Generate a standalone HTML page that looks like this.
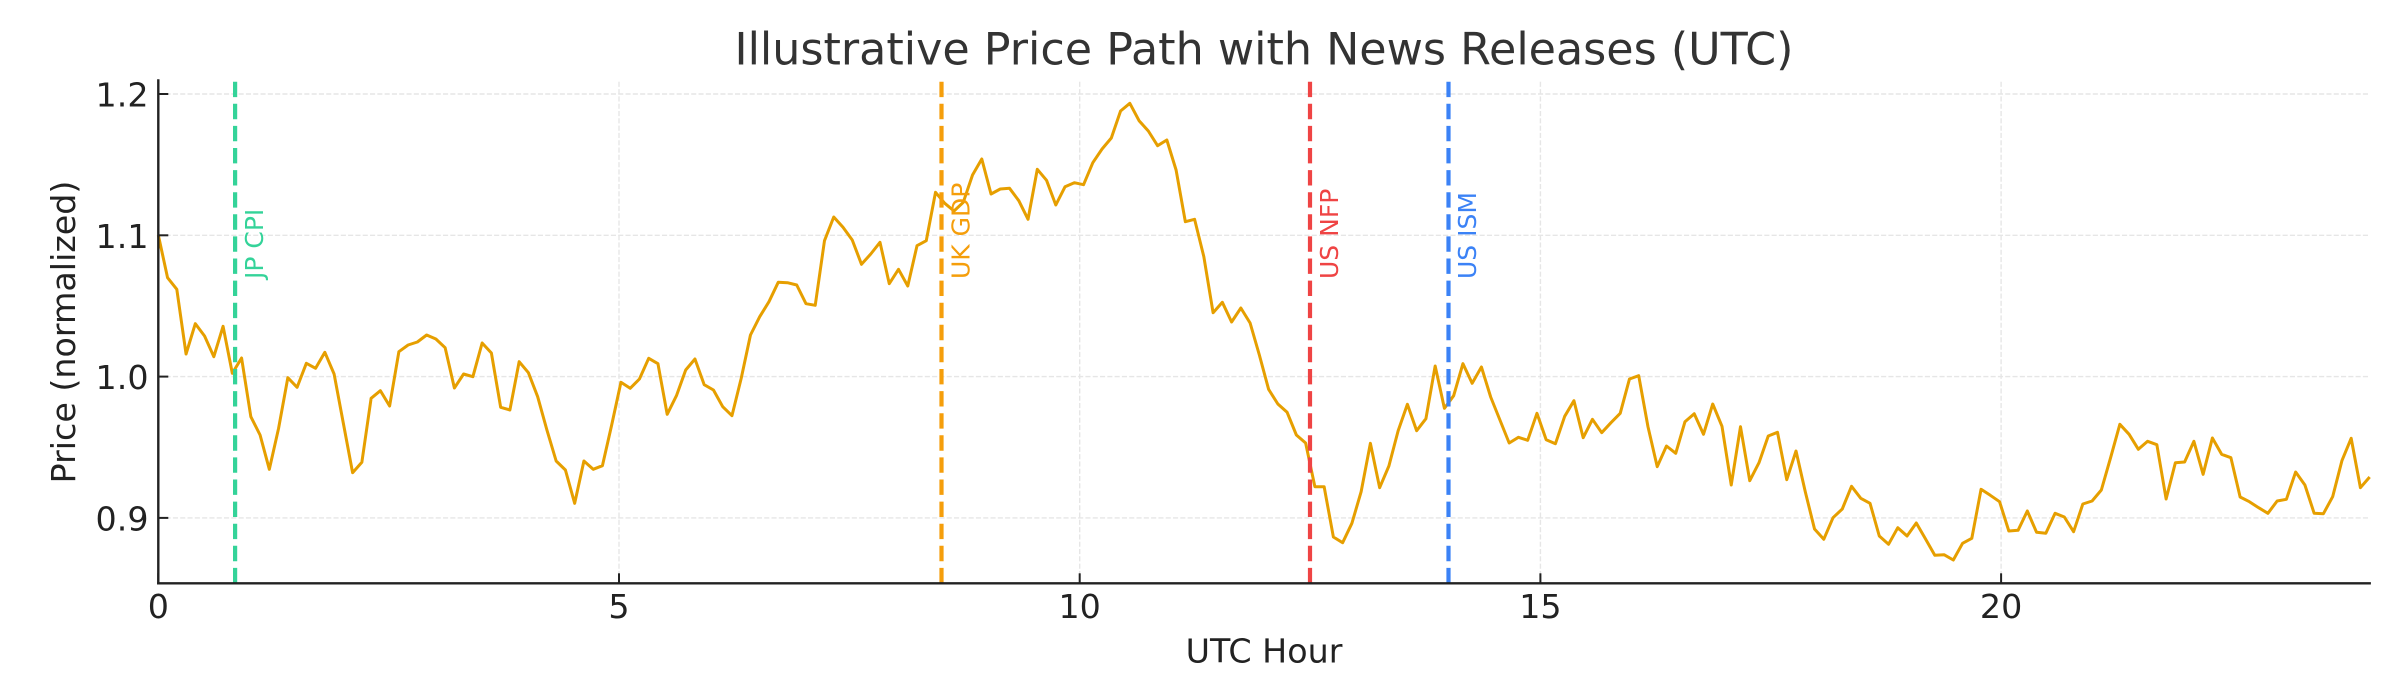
<!DOCTYPE html>
<html>
<head>
<meta charset="utf-8">
<style>
  html, body { margin: 0; padding: 0; background: #ffffff; }
  svg { display: block; }
</style>
</head>
<body>
<svg xmlns="http://www.w3.org/2000/svg" width="2400" height="700" viewBox="0 0 2400 700" font-family="'DejaVu Sans', 'Liberation Sans', sans-serif">
  <rect x="0" y="0" width="2400" height="700" fill="#ffffff"/>

  <!-- grid: horizontal -->
  <g stroke="#e6e6e6" stroke-width="1.4" stroke-dasharray="5.1 2.2" fill="none">
    <line x1="158.3" y1="94" x2="2369.7" y2="94"/>
    <line x1="158.3" y1="235.3" x2="2369.7" y2="235.3"/>
    <line x1="158.3" y1="376.6" x2="2369.7" y2="376.6"/>
    <line x1="158.3" y1="517.9" x2="2369.7" y2="517.9"/>
  </g>
  <!-- grid: vertical -->
  <g stroke="#e6e6e6" stroke-width="1.4" stroke-dasharray="5.1 2.2" fill="none">
    <line x1="158.3" y1="583.3" x2="158.3" y2="80.5"/>
    <line x1="619" y1="583.3" x2="619" y2="80.5"/>
    <line x1="1079.7" y1="583.3" x2="1079.7" y2="80.5"/>
    <line x1="1540.4" y1="583.3" x2="1540.4" y2="80.5"/>
    <line x1="2001.1" y1="583.3" x2="2001.1" y2="80.5"/>
  </g>

  <!-- price path -->
  <polyline fill="none" stroke="#E69F00" stroke-width="3" stroke-linejoin="round" stroke-linecap="butt" vector-effect="non-scaling-stroke"
    transform="translate(158.3,0) scale(9.2526,1)"
    points="0,235 1,277.7 2,289.3 3,354 4,323.7 5,336 6,356.7 7,326.3 8,373.3 9,358 10,416.7 11,435 12,469.3 13,428.3 14,377.7 15,387.3 16,363.3 17,368.3 18,352.3 19,374 20,423.3 21,472.7 22,462.3 23,398.3 24,390.7 25,406 26,351.7 27,345 28,342 29,335 30,339 31,347.7 32,388 33,374 34,376.7 35,343 36,353 37,407.3 38,410 39,361.7 40,372.7 41,396.7 42,430 43,461 44,470 45,503.3 46,461 47,469.3 48,465.7 49,425 50,382.3 51,388.3 52,379 53,358.3 54,363.7 55,414.3 56,395.7 57,370 58,359 59,384.7 60,390 61,406.7 62,415.7 63,378.3 64,335 65,316.7 66,301.7 67,282.3 68,282.7 69,285 70,303.7 71,305.3 72,240.7 73,217 74,227.3 75,240 76,264.3 77,254 78,242.3 79,283.7 80,269.3 81,286 82,245.7 83,240.7 84,192.3 85,203.3 86,211 87,202.3 88,175 89,159 90,194 91,189 92,188.3 93,200.7 94,219.3 95,169.3 96,180.3 97,205 98,186.7 99,182.7 100,184.7 101,162.7 102,149 103,138 104,111 105,103.3 106,120.7 107,131 108,145.7 109,140 110,170 111,221.7 112,219.3 113,256.7 114,312.7 115,302.3 116,322 117,308 118,323 119,355 120,389.3 121,404 122,412.3 123,435 124,443 125,486.7 126,486.7 127,537 128,542.7 129,523.3 130,491.7 131,443.3 132,487.7 133,466 134,430.7 135,404.3 136,430.7 137,418.7 138,366 139,408.3 140,395.7 141,363.7 142,383.3 143,367 144,397 145,420 146,443 147,437.3 148,440.3 149,413.3 150,439.7 151,443.7 152,416.3 153,400.7 154,437.7 155,419.3 156,432.7 157,422.7 158,413.3 159,379 160,375.7 161,426.7 162,466.7 163,446 164,453.3 165,421.7 166,413.7 167,434.3 168,404 169,426.3 170,485 171,426.7 172,480.7 173,462.7 174,436 175,432.3 176,479.7 177,451 178,491.7 179,529 180,539.3 181,517.7 182,509 183,486.3 184,498.3 185,503.3 186,536 187,544.3 188,527.7 189,536 190,523 191,539 192,555.3 193,554.7 194,560 195,543.3 196,538.3 197,489.3 198,495.3 199,501.7 200,531 201,530.3 202,511 203,532.3 204,533.3 205,513.3 206,517 207,531.7 208,504 209,501 210,490 211,457.7 212,424.3 213,434.3 214,449.3 215,441.3 216,444.7 217,499 218,462.7 219,462 220,441.3 221,474.3 222,438 223,454.3 224,457.7 225,497 226,501.7 227,507.7 228,513.3 229,501 230,499.3 231,472 232,485 233,513.3 234,513.7 235,496.7 236,460.7 237,438.3 238,487.7 239,477"/>

  <!-- news release lines -->
  <g stroke-width="4.2" stroke-dasharray="15.4 6.7" fill="none">
    <line x1="235.1" y1="583.3" x2="235.1" y2="80.5" stroke="#34d399"/>
    <line x1="941.5" y1="583.3" x2="941.5" y2="80.5" stroke="#f59e0b"/>
    <line x1="1310" y1="583.3" x2="1310" y2="80.5" stroke="#ef4444"/>
    <line x1="1448.5" y1="583.3" x2="1448.5" y2="80.5" stroke="#3b82f6"/>
  </g>

  <!-- news labels -->
  <g font-size="25">
    <text transform="translate(263,279) rotate(-90)" fill="#34d399">JP CPI</text>
    <text transform="translate(969.5,279) rotate(-90)" fill="#f59e0b">UK GDP</text>
    <text transform="translate(1338,279) rotate(-90)" fill="#ef4444">US NFP</text>
    <text transform="translate(1476,279) rotate(-90)" fill="#3b82f6">US ISM</text>
  </g>

  <!-- spines -->
  <g stroke="#222222" stroke-width="2.4" stroke-linecap="square" fill="none">
    <line x1="158.3" y1="80.5" x2="158.3" y2="583.3"/>
    <line x1="158.3" y1="583.3" x2="2369.7" y2="583.3"/>
  </g>

  <!-- ticks (inward) -->
  <g stroke="#222222" stroke-width="2" fill="none">
    <line x1="158.3" y1="94" x2="168.3" y2="94"/>
    <line x1="158.3" y1="235.3" x2="168.3" y2="235.3"/>
    <line x1="158.3" y1="376.6" x2="168.3" y2="376.6"/>
    <line x1="158.3" y1="517.9" x2="168.3" y2="517.9"/>
    <line x1="158.3" y1="583.3" x2="158.3" y2="573.3"/>
    <line x1="619" y1="583.3" x2="619" y2="573.3"/>
    <line x1="1079.7" y1="583.3" x2="1079.7" y2="573.3"/>
    <line x1="1540.4" y1="583.3" x2="1540.4" y2="573.3"/>
    <line x1="2001.1" y1="583.3" x2="2001.1" y2="573.3"/>
  </g>

  <!-- y tick labels -->
  <g font-size="33.3" fill="#222222" text-anchor="end">
    <text x="148.5" y="106.5">1.2</text>
    <text x="148.5" y="247.8">1.1</text>
    <text x="148.5" y="389.1">1.0</text>
    <text x="148.5" y="530.4">0.9</text>
  </g>

  <!-- x tick labels -->
  <g font-size="33.3" fill="#222222" text-anchor="middle">
    <text x="158.3" y="618">0</text>
    <text x="619" y="618">5</text>
    <text x="1079.7" y="618">10</text>
    <text x="1540.4" y="618">15</text>
    <text x="2001.1" y="618">20</text>
  </g>

  <!-- axis labels -->
  <text x="1264" y="662.3" font-size="33.3" fill="#222222" text-anchor="middle">UTC Hour</text>
  <text transform="translate(74.8,332) rotate(-90)" font-size="33.3" fill="#222222" text-anchor="middle">Price (normalized)</text>

  <!-- title -->
  <text x="1264" y="64.3" font-size="44.4" fill="#333333" text-anchor="middle">Illustrative Price Path with News Releases (UTC)</text>
</svg>
</body>
</html>
